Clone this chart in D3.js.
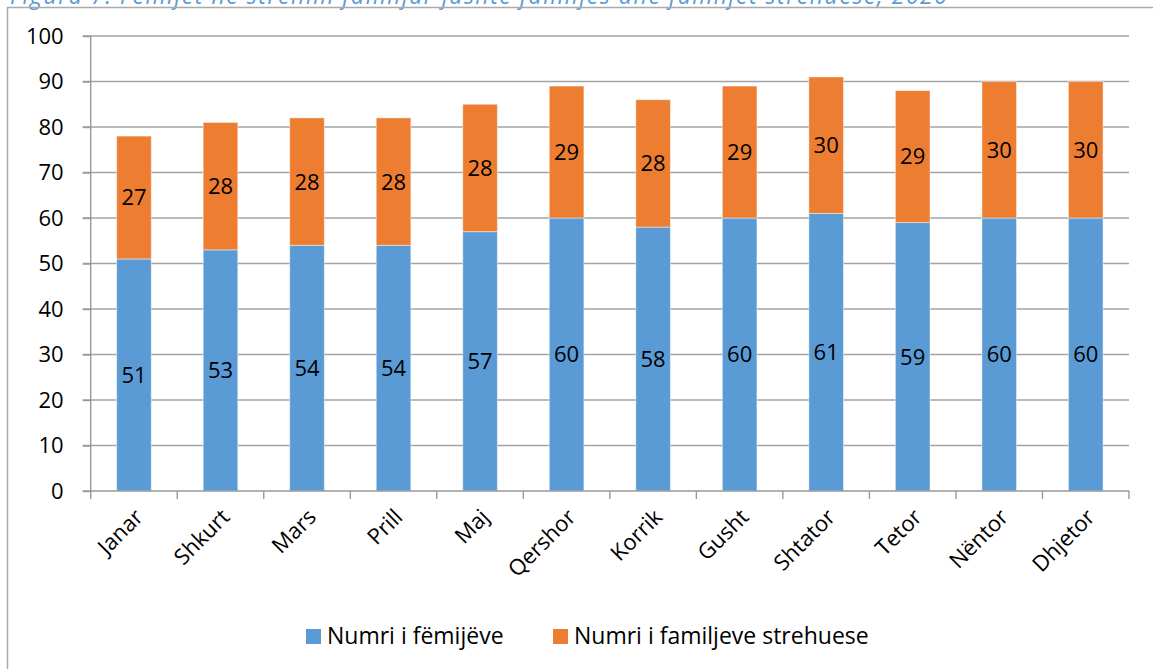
<!DOCTYPE html>
<html>
<head>
    <meta charset="utf-8">
    <title>Fëmijët në strehim familjar</title>
    <script src="https://d3js.org/d3.v7.min.js"></script>
    <style>
        body { margin: 0; background: #fff; }
        svg { display: block; font-family: "Open Sans", sans-serif; }
        .grid line { stroke: #a3a3a3; stroke-width: 1.4; }
        .axis path, .axis line { stroke: #999; stroke-width: 1.4; }
        .axis text { fill: #000; font-size: 22px; font-family: "Open Sans", sans-serif; }
        .value-label { font-size: 22px; fill: #000; text-anchor: middle; }
        .legend text { font-size: 23px; fill: #000; }
    </style>
</head>
<body>
    <div id="chart"></div>
    <script>
        // chart data
        const months = ["Janar", "Shkurt", "Mars", "Prill", "Maj", "Qershor", "Korrik", "Gusht", "Shtator", "Tetor", "Nëntor", "Dhjetor"];
        const children = [51, 53, 54, 54, 57, 60, 58, 60, 61, 59, 60, 60];
        const families = [27, 28, 28, 28, 28, 29, 28, 29, 30, 29, 30, 30];
        const yTicks = [0, 10, 20, 30, 40, 50, 60, 70, 80, 90, 100];
        const seriesNames = ["Numri i fëmijëve", "Numri i familjeve strehuese"];
        const seriesColors = ["#5b9bd5", "#ed7d31"];
        const title = "Figura 7: Fëmijët në strehim familjar jashtë familjes dhe familjet strehuese, 2020";

        const W = 1153, H = 669;
        const plot = { left: 90.7, right: 1129, top: 36, bottom: 491 };

        const svg = d3.select("#chart").append("svg")
            .attr("width", W)
            .attr("height", H);

        // title, cut off at the top edge like the source
        svg.append("text")
            .attr("x", 10)
            .attr("y", 4)
            .attr("fill", "#5b9bd5")
            .attr("font-style", "italic")
            .attr("font-size", 23)
            .attr("textLength", 937)
            .attr("lengthAdjust", "spacing")
            .text(title);

        // outer chart frame
        svg.append("rect")
            .attr("x", 7.5)
            .attr("y", 7.5)
            .attr("width", W + 20)
            .attr("height", H + 20)
            .attr("fill", "none")
            .attr("stroke", "#aaa")
            .attr("stroke-width", 1.5);

        const x = d3.scaleBand()
            .domain(months)
            .range([plot.left, plot.right])
            .paddingInner(0.6)
            .paddingOuter(0.3);

        const y = d3.scaleLinear()
            .domain([0, 100])
            .range([plot.bottom, plot.top]);

        // gridlines
        svg.append("g")
            .attr("class", "grid")
            .selectAll("line")
            .data(yTicks.filter(d => d > 0))
            .join("line")
            .attr("x1", plot.left - 8)
            .attr("x2", plot.right)
            .attr("y1", d => y(d))
            .attr("y2", d => y(d));

        const stackData = months.map((m, i) => ({ month: m, a: children[i], b: families[i] }));
        const stacked = d3.stack().keys(["a", "b"])(stackData);

        const layers = svg.append("g")
            .selectAll("g")
            .data(stacked)
            .join("g")
            .attr("fill", (d, i) => seriesColors[i]);

        layers.selectAll("rect")
            .data(d => d)
            .join("rect")
            .attr("x", d => x(d.data.month))
            .attr("y", d => y(d[1]))
            .attr("width", x.bandwidth())
            .attr("height", d => y(d[0]) - y(d[1]))
            .attr("stroke", "#fff")
            .attr("stroke-opacity", 0.45)
            .attr("stroke-width", 1);

        // value labels centred in each segment
        layers.selectAll("text")
            .data(d => d)
            .join("text")
            .attr("class", "value-label")
            .attr("x", d => x(d.data.month) + x.bandwidth() / 2)
            .attr("y", d => y((d[0] + d[1]) / 2))
            .attr("dy", "0.36em")
            .text(d => d[1] - d[0]);

        // y axis
        const yAxis = svg.append("g")
            .attr("class", "axis")
            .attr("transform", `translate(${plot.left},0)`)
            .call(d3.axisLeft(y).tickValues(yTicks).tickSize(8).tickPadding(19));
        yAxis.select(".domain").attr("d", `M0,${plot.bottom}V${plot.top}`);

        // x axis with ticks on category boundaries
        const xAxis = svg.append("g")
            .attr("class", "axis")
            .attr("transform", `translate(0,${plot.bottom})`);
        xAxis.append("line")
            .attr("x1", plot.left - 8).attr("x2", plot.right)
            .attr("y1", 0).attr("y2", 0);
        const step = x.step();
        xAxis.selectAll(".tk")
            .data(d3.range(months.length + 1))
            .join("line")
            .attr("class", "tk")
            .attr("x1", i => plot.left + i * step)
            .attr("x2", i => plot.left + i * step)
            .attr("y1", 0).attr("y2", 8);
        xAxis.selectAll(".lbl")
            .data(months)
            .join("text")
            .attr("class", "lbl")
            .attr("text-anchor", "end")
            .attr("transform", d => `translate(${x(d) + x.bandwidth() / 2 + 5},${22}) rotate(-45)`)
            .attr("dy", "0.35em")
            .text(d => d);

        // legend
        const legend = svg.append("g").attr("class", "legend");
        const legendX = [306, 553];
        seriesNames.forEach((name, i) => {
            legend.append("rect")
                .attr("x", legendX[i])
                .attr("y", 629)
                .attr("width", 15)
                .attr("height", 15)
                .attr("fill", seriesColors[i]);
            legend.append("text")
                .attr("x", legendX[i] + 21)
                .attr("y", 636)
                .attr("dy", "0.36em")
                .text(name);
        });
    </script>
</body>
</html>
